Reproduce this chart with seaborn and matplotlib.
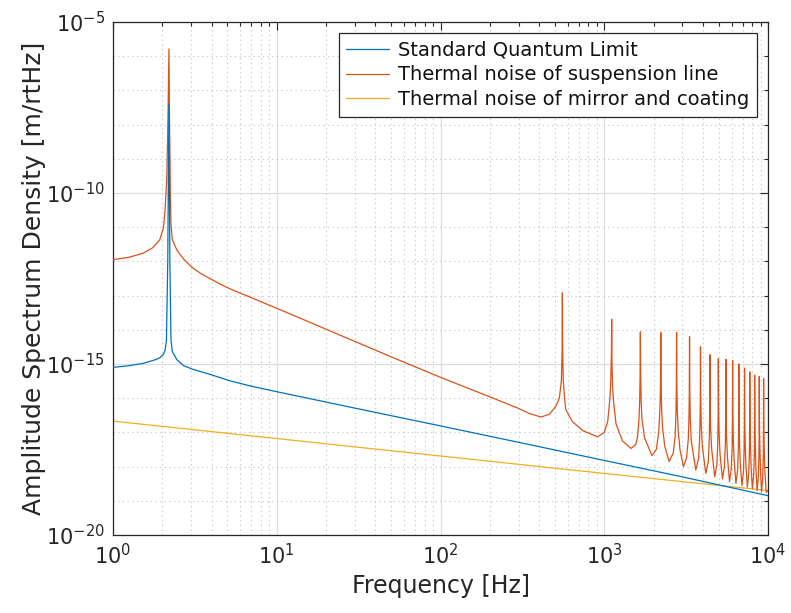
import numpy as np
import pandas as pd
import matplotlib
matplotlib.use("Agg")
import matplotlib.pyplot as plt
import seaborn as sns

# --- Noise budget curves (frequency in Hz, log10 of ASD in m/rtHz) ---

sql_freq = [1.0, 1.25, 1.53, 1.8, 1.93, 2.03, 2.08, 2.12, 2.16, 2.195, 2.225,
            2.26, 2.30, 2.45, 2.7, 3.09, 3.9, 5.17, 7.0, 10, 30, 100, 300,
            1000, 3000, 10000]
sql_log_asd = [-15.10, -15.05, -14.98, -14.88, -14.82, -14.72, -14.60, -14.30,
               -12.00, -7.40, -12.00, -14.30, -14.63, -14.87, -15.05, -15.16,
               -15.30, -15.49, -15.65, -15.81, -16.29, -16.81, -17.29, -17.82,
               -18.30, -18.85]

susp_freq = [
    1.0, 1.25, 1.53, 1.75, 1.93, 2.03, 2.08, 2.13, 2.17, 2.195, 2.215, 2.24,
    2.26, 2.30, 2.45, 2.57, 2.7, 2.88, 3.09, 3.45, 3.9, 4.5, 5.17, 7.5, 10,
    20, 30, 50, 100, 200,
    300, 350, 411, 462, 508, 532, 547, 553,
    555, 557.2, 562, 572, 582, 638, 740, 910, 1000, 1050, 1084, 1096, 1106,
    1110, 1114, 1125, 1140, 1180, 1293, 1455, 1560, 1600, 1630, 1645, 1656,
    1662, 1669, 1680, 1700, 1760, 1954, 2080, 2150, 2180, 2200, 2208,
    2215, 2224, 2240, 2270, 2340, 2490, 2640, 2710, 2740, 2755,
    2765, 2776, 2795, 2830, 2900, 3046, 3180, 3260, 3290, 3306,
    3318, 3331, 3352, 3400, 3623, 3770, 3830, 3855, 3862,
    3870, 3885, 3910, 3970, 4170, 4320, 4380, 4405,
    4420, 4437, 4465, 4530, 4730, 4870, 4935, 4960,
    4975, 4993, 5025, 5090, 5270, 5420, 5490, 5515,
    5530, 5550, 5585, 5650, 5820, 5970, 6040, 6065,
    6080, 6102, 6140, 6210, 6370, 6520, 6595, 6620,
    6635, 6660, 6700, 6770, 6930, 7080, 7150, 7175,
    7190, 7216, 7260, 7330, 7480, 7630, 7700, 7725,
    7740, 7768, 7815, 7885, 8030, 8180, 8250, 8275,
    8290, 8320, 8370, 8440, 8580, 8730, 8805, 8830,
    8845, 8877, 8930, 9000, 9130, 9280, 9360, 9385,
    9400, 9434, 9490, 9570, 9750, 10000,
]
susp_log_asd = [
    -11.95, -11.88, -11.76, -11.60, -11.37, -11.03, -10.50, -9.60, -7.60,
    -5.79, -8.00, -10.00, -10.90, -11.35, -11.66, -11.80, -11.93, -12.07,
    -12.20, -12.36, -12.50, -12.66, -12.80, -13.12, -13.37,
    -13.98, -14.34, -14.79, -15.39, -15.96,
    -16.30, -16.45, -16.55, -16.47, -16.23, -15.99, -15.50, -14.60,
    -12.92, -14.60, -15.50, -15.99, -16.33, -16.68, -16.95, -17.13, -17.00,
    -16.68, -15.99, -15.50, -14.70,
    -13.69, -14.90, -15.70, -16.10, -16.75, -17.25, -17.47, -17.35, -17.10,
    -16.60, -16.10, -15.30,
    -14.06, -15.30, -16.10, -16.60, -17.15, -17.68, -17.50, -17.00, -16.50,
    -15.90, -15.30,
    -14.08, -15.50, -16.30, -16.85, -17.40, -17.85, -17.60, -17.10, -16.50,
    -15.80,
    -14.07, -15.60, -16.40, -16.95, -17.50, -18.00, -17.75, -17.20, -16.60,
    -15.90,
    -14.20, -15.80, -16.60, -17.25, -18.10, -17.75, -17.10, -16.40, -15.90,
    -14.49, -16.00, -16.75, -17.40, -18.20, -17.85, -17.20, -16.40,
    -14.73, -16.20, -16.90, -17.50, -18.30, -17.95, -17.30, -16.50,
    -14.84, -16.30, -17.00, -17.60, -18.36, -18.00, -17.35, -16.55,
    -14.86, -16.40, -17.10, -17.70, -18.44, -18.05, -17.40, -16.60,
    -14.90, -16.50, -17.20, -17.80, -18.49, -18.10, -17.45, -16.70,
    -15.00, -16.60, -17.30, -17.90, -18.56, -18.15, -17.50, -16.80,
    -15.12, -16.70, -17.35, -17.95, -18.60, -18.20, -17.55, -16.85,
    -15.23, -16.80, -17.40, -18.00, -18.65, -18.25, -17.60, -16.90,
    -15.33, -16.85, -17.45, -18.05, -18.70, -18.30, -17.65, -16.95,
    -15.37, -16.90, -17.50, -18.10, -18.74, -18.35, -17.70, -17.00,
    -15.42, -16.95, -17.55, -18.15, -18.75, -18.70,
]

mirror_freq = [1.0, 10, 100, 1000, 10000]
mirror_log_asd = [-16.67, -17.18, -17.69, -18.20, -18.70]

series_labels = ["Standard Quantum Limit",
                 "Thermal noise of suspension line",
                 "Thermal noise of mirror and coating"]
series_colors = ["#0072BD", "#D95319", "#EDB120"]
series_z = [4, 3, 2]

x_major = [1, 10, 100, 1000, 10000]
y_major = [1e-20, 1e-15, 1e-10, 1e-5]

# --- Figure ---
sns.set_theme(style="white")
plt.rcParams["font.family"] = ["DejaVu Sans"]
plt.rcParams["mathtext.fontset"] = "dejavusans"

fig = plt.figure(figsize=(7.91, 6.13), dpi=100)
ax = fig.add_axes([113 / 791, 1 - 535 / 613, 655 / 791, 513 / 613])

curves = [(sql_freq, sql_log_asd), (susp_freq, susp_log_asd),
          (mirror_freq, mirror_log_asd)]
for (f, a), lab, col, z in zip(curves, series_labels, series_colors, series_z):
    df = pd.DataFrame({"f": f, "asd": 10.0 ** np.asarray(a)})
    sns.lineplot(data=df, x="f", y="asd", ax=ax, color=col, linewidth=0.9,
                 label=lab, estimator=None, sort=False, zorder=z)

ax.set_xscale("log")
ax.set_yscale("log")
ax.set_xlim(1, 1e4)
ax.set_ylim(1e-20, 1e-5)

ax.set_xticks(x_major)
ax.set_xticks([m * d for d in [1, 10, 100, 1000] for m in range(2, 10)],
              minor=True)
ax.set_yticks(y_major)
ax.set_yticks([10.0 ** e for e in range(-20, -4) if e % 5 != 0], minor=True)
ax.yaxis.set_minor_formatter(matplotlib.ticker.NullFormatter())
ax.xaxis.set_minor_formatter(matplotlib.ticker.NullFormatter())

ax.grid(True, which="major", color="#dedede", linestyle="-", linewidth=0.9)
ax.grid(True, which="minor", color="#c8c8c8", linestyle=(0, (1.2, 3.0)),
        linewidth=0.8)
ax.set_axisbelow(True)

for s in ax.spines.values():
    s.set_color("#262626")
    s.set_linewidth(0.9)
ax.tick_params(which="both", direction="in", top=True, right=True,
               color="#262626", width=0.8)
ax.tick_params(which="major", length=6, labelsize=15, pad=6,
               labelcolor="#262626")
ax.tick_params(which="minor", length=3)

ax.set_xlabel("Frequency [Hz]", fontsize=17, color="#262626", labelpad=4)
ax.set_ylabel("Amplitude Spectrum Density [m/rtHz]", fontsize=18,
              color="#262626", labelpad=0)

leg = ax.legend(loc="upper right", bbox_to_anchor=(0.983, 0.979),
                borderaxespad=0, fontsize=14, frameon=True, fancybox=False,
                framealpha=1, edgecolor="#262626", handlelength=2.2,
                handletextpad=0.45, labelspacing=0.3, borderpad=0.4)
leg.get_frame().set_linewidth(0.9)
for t in leg.get_texts():
    t.set_color("#111111")

fig.savefig("out.png", dpi=100)
